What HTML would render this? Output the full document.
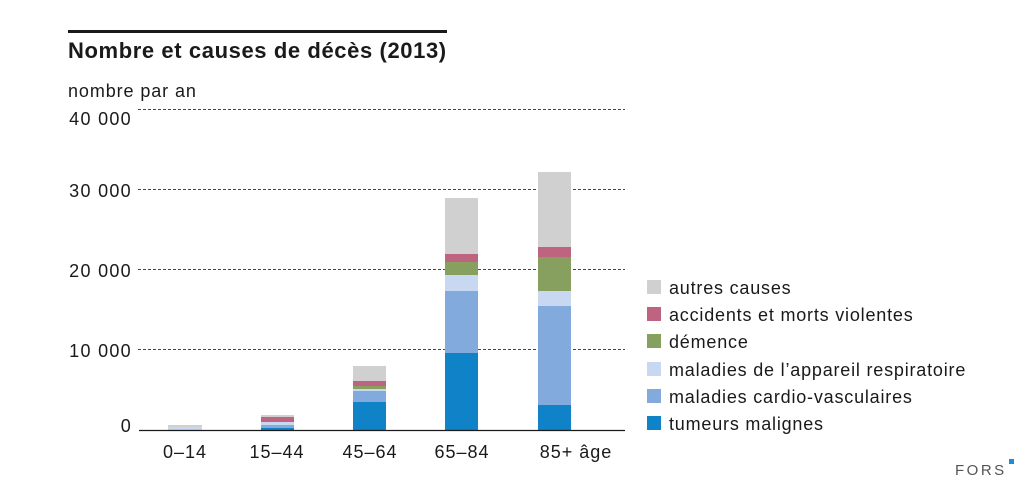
<!DOCTYPE html>
<html><head><meta charset="utf-8"><style>
html,body{margin:0;padding:0;background:#fff;}
svg{display:block;font-family:"Liberation Sans",sans-serif;}
</style></head><body>
<svg width="1035" height="494" viewBox="0 0 1035 494" xmlns="http://www.w3.org/2000/svg">
<rect x="68" y="30" width="379" height="3" fill="#1a1a1a"/>
<text x="68" y="58" font-size="22" font-weight="bold" fill="#1a1a1a" letter-spacing="0.6">Nombre et causes de décès (2013)</text>
<text x="68" y="97" font-size="18" fill="#1a1a1a" letter-spacing="0.9">nombre par an</text>
<g stroke="#444" stroke-width="1" stroke-dasharray="3,2">
<line x1="138" y1="109.5" x2="625" y2="109.5"/>
<line x1="138" y1="189.5" x2="625" y2="189.5"/>
<line x1="138" y1="269.5" x2="625" y2="269.5"/>
<line x1="138" y1="349.5" x2="625" y2="349.5"/>
</g>
<g font-size="18" fill="#1a1a1a" text-anchor="end" letter-spacing="1.3">
<text x="132" y="125">40 000</text>
<text x="132" y="197">30 000</text>
<text x="132" y="277">20 000</text>
<text x="132" y="357">10 000</text>
<text x="132" y="432">0</text>
</g>
<rect x="168" y="425" width="34" height="2" fill="#d0d0d0"/>
<rect x="168" y="427" width="34" height="3" fill="#c8d8f0"/>
<rect x="261" y="415" width="33" height="2" fill="#d0d0d0"/>
<rect x="261" y="417" width="33" height="5" fill="#bf6480"/>
<rect x="261" y="422" width="33" height="3" fill="#c8d8f0"/>
<rect x="261" y="425" width="33" height="3" fill="#82aadc"/>
<rect x="261" y="428" width="33" height="2" fill="#0f82c8"/>
<rect x="353" y="366" width="33" height="15" fill="#d0d0d0"/>
<rect x="353" y="381" width="33" height="5" fill="#bf6480"/>
<rect x="353" y="386" width="33" height="3" fill="#87a060"/>
<rect x="353" y="389" width="33" height="2" fill="#c8d8f0"/>
<rect x="353" y="391" width="33" height="11" fill="#82aadc"/>
<rect x="353" y="402" width="33" height="28" fill="#0f82c8"/>
<rect x="445" y="198" width="33" height="56" fill="#d0d0d0"/>
<rect x="445" y="254" width="33" height="8" fill="#bf6480"/>
<rect x="445" y="262" width="33" height="13" fill="#87a060"/>
<rect x="445" y="275" width="33" height="16" fill="#c8d8f0"/>
<rect x="445" y="291" width="33" height="62" fill="#82aadc"/>
<rect x="445" y="353" width="33" height="77" fill="#0f82c8"/>
<rect x="538" y="172" width="33" height="75" fill="#d0d0d0"/>
<rect x="538" y="247" width="33" height="10" fill="#bf6480"/>
<rect x="538" y="257" width="33" height="34" fill="#87a060"/>
<rect x="538" y="291" width="33" height="15" fill="#c8d8f0"/>
<rect x="538" y="306" width="33" height="99" fill="#82aadc"/>
<rect x="538" y="405" width="33" height="25" fill="#0f82c8"/>
<line x1="139" y1="430.5" x2="625" y2="430.5" stroke="#1a1a1a" stroke-width="1.2"/>
<g font-size="18" fill="#1a1a1a" text-anchor="middle" letter-spacing="1">
<text x="185" y="458">0–14</text>
<text x="277" y="458">15–44</text>
<text x="370" y="458">45–64</text>
<text x="462" y="458">65–84</text>
<text x="576" y="458">85+ âge</text>
</g>
<g font-size="18" fill="#1a1a1a" letter-spacing="0.8">
<rect x="647" y="280" width="14" height="14" fill="#d0d0d0"/><text x="669" y="294">autres causes</text>
<rect x="647" y="307" width="14" height="14" fill="#bf6480"/><text x="669" y="321">accidents et morts violentes</text>
<rect x="647" y="334" width="14" height="14" fill="#87a060"/><text x="669" y="348">démence</text>
<rect x="647" y="362" width="14" height="14" fill="#c8d8f0"/><text x="669" y="376">maladies de l’appareil respiratoire</text>
<rect x="647" y="389" width="14" height="14" fill="#82aadc"/><text x="669" y="403">maladies cardio-vasculaires</text>
<rect x="647" y="416" width="14" height="14" fill="#0f82c8"/><text x="669" y="430">tumeurs malignes</text>
</g>
<text x="955" y="475" font-size="15" fill="#555" letter-spacing="2.5">FORS</text>
<rect x="1009" y="459" width="5" height="5" fill="#1a8fd8"/>
</svg>
</body></html>
